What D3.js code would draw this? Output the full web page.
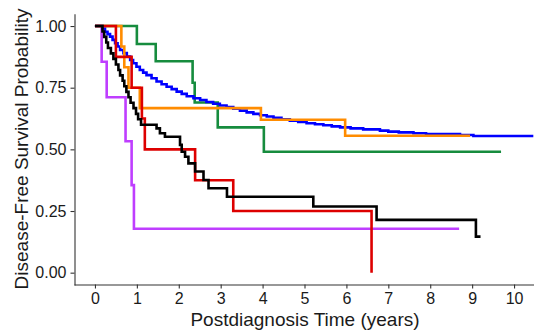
<!DOCTYPE html>
<html>
<head>
<meta charset="utf-8">
<script src="https://cdn.jsdelivr.net/npm/d3@7"></script>
<style>
  body { margin: 0; background: #fff; }
  svg { display: block; font-family: "Liberation Sans", Arial, sans-serif; }
</style>
</head>
<body>
<svg id="chart" width="534" height="335"></svg>
<script>
// step points [time (years), survival] per group, last point = end of follow-up
const blackSteps = [[0,1],[0.18,0.978],[0.22,0.956],[0.27,0.933],[0.31,0.911],[0.38,0.889],[0.44,0.867],
  [0.5,0.844],[0.56,0.822],[0.6,0.8],[0.66,0.778],[0.7,0.756],[0.75,0.733],[0.8,0.711],[0.85,0.689],
  [0.92,0.667],[0.98,0.644],[1.03,0.622],[1.1,0.6],[1.47,0.585],[1.55,0.565],[1.67,0.551],[2.03,0.518],
  [2.07,0.49],[2.15,0.47],[2.23,0.443],[2.39,0.41],[2.59,0.376],[2.71,0.342],[3.15,0.308],[5.21,0.268],
  [6.72,0.214],[9.09,0.146],[9.2,0.146]];
const redSteps = [[0,1],[0.5,0.875],[0.875,0.75],[1.12,0.625],[1.19,0.5],[2.39,0.375],[3.3,0.25],[6.6,0]];
const greenSteps = [[0,1],[1.0,0.927],[1.45,0.857],[2.33,0.77],[2.38,0.69],[2.93,0.589],[4.03,0.49],[9.69,0.49]];
const orangeSteps = [[0,1],[0.63,0.917],[0.7,0.833],[0.8,0.75],[1.07,0.667],[3.96,0.62],[5.97,0.555],[8.95,0.555]];
const purpleSteps = [[0,1],[0.16,0.855],[0.28,0.711],[0.73,0.533],[0.875,0.355],[0.93,0.178],[8.69,0.178]];
const blueSteps = [[0,1],[0.18,0.99],[0.24,0.977],[0.3,0.967],[0.36,0.957],[0.42,0.944],[0.48,0.93],
  [0.54,0.917],[0.6,0.903],[0.68,0.89],[0.76,0.876],[0.84,0.862],[0.91,0.849],[0.99,0.835],[1.07,0.822],
  [1.15,0.811],[1.23,0.801],[1.35,0.788],[1.47,0.775],[1.59,0.764],[1.71,0.754],[1.83,0.744],[1.95,0.734],
  [2.07,0.725],[2.19,0.715],[2.35,0.707],[2.51,0.7],[2.66,0.692],[2.82,0.685],[2.98,0.678],[3.14,0.672],
  [3.3,0.665],[3.46,0.657],[3.62,0.65],[3.78,0.644],[3.94,0.638],[4.1,0.633],[4.26,0.628],[4.45,0.622],
  [4.65,0.616],[4.85,0.611],[5.05,0.606],[5.25,0.602],[5.45,0.598],[5.65,0.593],[5.85,0.589],[6.1,0.585],
  [6.4,0.581],[6.8,0.576],[7.0,0.572],[7.25,0.569],[7.6,0.565],[7.9,0.562],[8.71,0.558],[9.03,0.554],
  [10.46,0.554]];

const xTicks = [0,1,2,3,4,5,6,7,8,9,10];
const yTicks = [0, 0.25, 0.5, 0.75, 1];

const series = [
  { steps: purpleSteps, color: "#BF3EFF" },
  { steps: greenSteps, color: "#168C3E" },
  { steps: blueSteps, color: "#0000FF" },
  { steps: orangeSteps, color: "#FF8C00" },
  { steps: redSteps, color: "#DD0000" },
  { steps: blackSteps, color: "#000000" }
];

const svg = d3.select("#chart");
const x = d3.scaleLinear().domain([-0.5, 10.5]).range([74, 535]);
const y = d3.scaleLinear().domain([-0.05, 1.05]).range([285, 13.7]);

// axes
const xAxis = svg.append("g")
  .attr("transform", "translate(0," + 284.5 + ")")
  .call(d3.axisBottom(x).tickValues(xTicks).tickSize(4).tickPadding(4).tickSizeOuter(0));
const yAxis = svg.append("g")
  .attr("transform", "translate(" + 74.5 + ",0)")
  .call(d3.axisLeft(y).tickValues(yTicks).tickFormat(d3.format(".2f")).tickSize(4).tickPadding(4).tickSizeOuter(0));

[xAxis, yAxis].forEach(g => {
  g.select(".domain").attr("stroke", "#333").attr("stroke-width", 1.1);
  g.selectAll(".tick line").attr("stroke", "#333").attr("stroke-width", 1.1);
  g.selectAll(".tick text").attr("fill", "#1a1a1a").style("font-size", "16px")
    .style("font-family", "'Liberation Sans', Arial, sans-serif");
});

// survival curves
const line = d3.line()
  .x(d => x(d[0]))
  .y(d => y(d[1]))
  .curve(d3.curveStepAfter);

svg.append("g").selectAll("path")
  .data(series)
  .enter()
  .append("path")
  .attr("d", d => line(d.steps))
  .attr("fill", "none")
  .attr("stroke", d => d.color)
  .attr("stroke-width", 2.6);

// axis titles
svg.append("text")
  .attr("x", 305)
  .attr("y", 326)
  .attr("text-anchor", "middle")
  .style("font-size", "19px")
  .attr("fill", "#1a1a1a")
  .text("Postdiagnosis Time (years)");

svg.append("text")
  .attr("transform", "translate(28,149) rotate(-90)")
  .attr("text-anchor", "middle")
  .style("font-size", "19px")
  .attr("fill", "#1a1a1a")
  .text("Disease-Free Survival Probability");
</script>
</body>
</html>
